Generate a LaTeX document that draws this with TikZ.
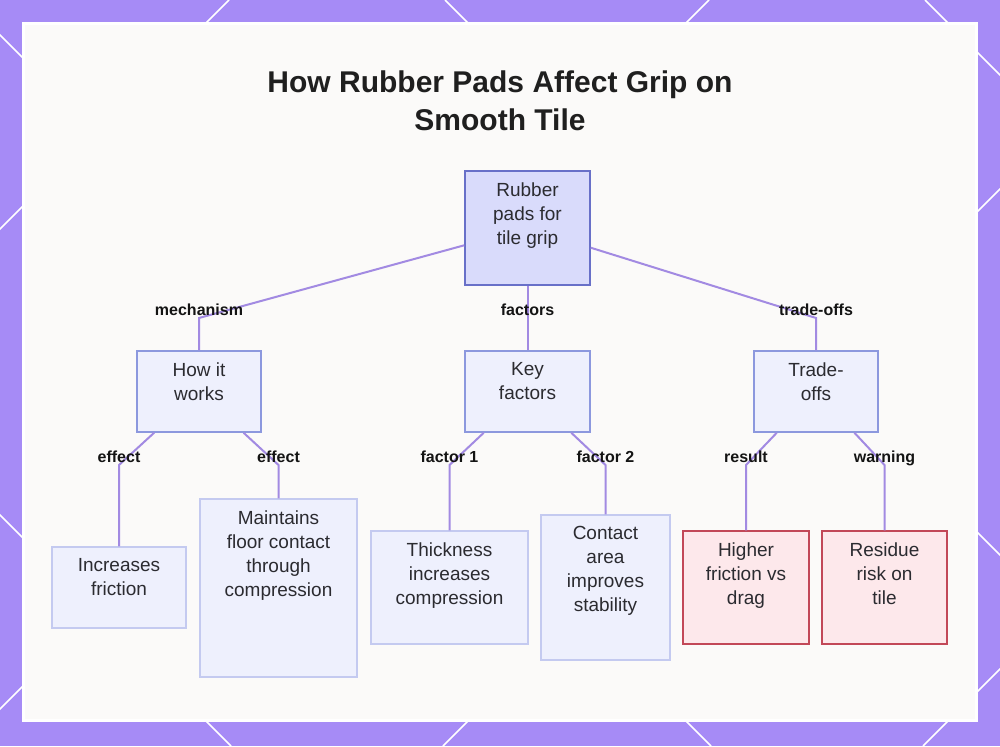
\documentclass[tikz,border=0pt]{standalone}
\usepackage{fontspec}
\setmainfont{Liberation Sans}
\usepackage{xcolor}
\usepackage{tikz}
\usetikzlibrary{positioning}

\definecolor{frame}{RGB}{166,139,246}
\definecolor{panel}{RGB}{251,250,249}
\definecolor{ink}{RGB}{43,43,48}
\definecolor{linkc}{RGB}{162,138,226}
\definecolor{rootfill}{RGB}{217,219,251}
\definecolor{rootdraw}{RGB}{104,112,200}
\definecolor{midfill}{RGB}{238,240,253}
\definecolor{middraw}{RGB}{140,152,222}
\definecolor{leafdraw}{RGB}{196,202,240}
\definecolor{warnfill}{RGB}{253,232,235}
\definecolor{warndraw}{RGB}{194,72,88}

\begin{document}
\begin{tikzpicture}[
  x=1pt, y=-1pt,
  rootbox/.style={rectangle, draw=rootdraw, fill=rootfill, line width=1.5pt, inner sep=0pt},
  midbox/.style={rectangle, draw=middraw, fill=midfill, line width=1.5pt, inner sep=0pt},
  leafbox/.style={rectangle, draw=leafdraw, fill=midfill, line width=1.5pt, inner sep=0pt},
  warnbox/.style={rectangle, draw=warndraw, fill=warnfill, line width=1.5pt, inner sep=0pt},
  boxtxt/.style={anchor=north, yshift=-12pt, inner sep=0pt, align=center, text=ink, font=\fontsize{19}{24}\selectfont},
  lbl/.style={anchor=base, yshift=3pt, text=black!92, font=\bfseries\fontsize{16}{18}\selectfont},
  link/.style={draw=linkc, line width=2pt},
  lattice/.style={draw=white, line width=1.5pt}
]
\useasboundingbox (0,0) rectangle (1000,746);

% purple frame with white lattice
\fill[frame] (0,0) rectangle (1000,746);
\begin{scope}
  \clip (0,0) rectangle (1000,746);
  \foreach \c in {229,709,1189,1669}
    \draw[lattice] (\c,0) -- (\c-746,746);
  \foreach \c in {-515,-35,445,925}
    \draw[lattice] (\c,0) -- (\c+746,746);
\end{scope}
\filldraw[fill=panel, draw=white, line width=3pt] (23.5,23.5) rectangle (976.5,720.5);

% title
\node[align=center, text=black!88, font=\bfseries\fontsize{30}{38}\selectfont] (title) at (500,101)
  {How Rubber Pads Affect Grip on\\Smooth Tile};

% bend points
\coordinate (mechC) at (199,318);
\coordinate (factC) at (527.5,318);
\coordinate (tradeC) at (816,318);
\coordinate (eff1C) at (119,465);
\coordinate (eff2C) at (278.5,465);
\coordinate (fac1C) at (449.5,465);
\coordinate (fac2C) at (605.5,465);
\coordinate (resC) at (746,465);
\coordinate (warnC) at (884.5,465);

% boxes
\node[rootbox, minimum width=125pt, minimum height=114pt,
  label={[boxtxt]north:{Rubber\\pads for\\tile grip}}] (root) at (527.5,228) {};

\node[midbox, minimum width=124pt, minimum height=81pt,
  label={[boxtxt]north:{How it\\works}}] (how) at (199,391.5) {};
\node[midbox, minimum width=125pt, minimum height=81pt,
  label={[boxtxt]north:{Key\\factors}}] (keyf) at (527.5,391.5) {};
\node[midbox, minimum width=124pt, minimum height=81pt,
  label={[boxtxt]north:{Trade-\\offs}}] (trade) at (816,391.5) {};

\node[leafbox, minimum width=134pt, minimum height=81pt,
  label={[boxtxt]north:{Increases\\friction}}] (incr) at (119,587.5) {};
\node[leafbox, minimum width=157pt, minimum height=178pt,
  label={[boxtxt]north:{Maintains\\floor contact\\through\\compression}}] (maint) at (278.5,588) {};
\node[leafbox, minimum width=157pt, minimum height=113pt,
  label={[boxtxt]north:{Thickness\\increases\\compression}}] (thick) at (449.5,587.5) {};
\node[leafbox, minimum width=129pt, minimum height=145pt,
  label={[boxtxt]north:{Contact\\area\\improves\\stability}}] (contact) at (605.5,587.5) {};
\node[warnbox, minimum width=126pt, minimum height=113pt,
  label={[boxtxt]north:{Higher\\friction vs\\drag}}] (higher) at (746,587.5) {};
\node[warnbox, minimum width=125pt, minimum height=113pt,
  label={[boxtxt]north:{Residue\\risk on\\tile}}] (residue) at (884.5,587.5) {};

% connectors
\draw[link] (root) -- (mechC) -- (how);
\draw[link] (root) -- (factC) -- (keyf);
\draw[link] (root) -- (tradeC) -- (trade);
\draw[link] (how) -- (eff1C) -- (incr);
\draw[link] (how) -- (eff2C) -- (maint);
\draw[link] (keyf) -- (fac1C) -- (thick);
\draw[link] (keyf) -- (fac2C) -- (contact);
\draw[link] (trade) -- (resC) -- (higher);
\draw[link] (trade) -- (warnC) -- (residue);

% connector labels
\node[lbl] (mechL) at (mechC) {mechanism};
\node[lbl] (factL) at (factC) {factors};
\node[lbl] (tradeL) at (tradeC) {trade-offs};
\node[lbl] (eff1L) at (eff1C) {effect};
\node[lbl] (eff2L) at (eff2C) {effect};
\node[lbl] (fac1L) at (fac1C) {factor 1};
\node[lbl] (fac2L) at (fac2C) {factor 2};
\node[lbl] (resL) at (resC) {result};
\node[lbl] (warnL) at (warnC) {warning};
\end{tikzpicture}
\end{document}
